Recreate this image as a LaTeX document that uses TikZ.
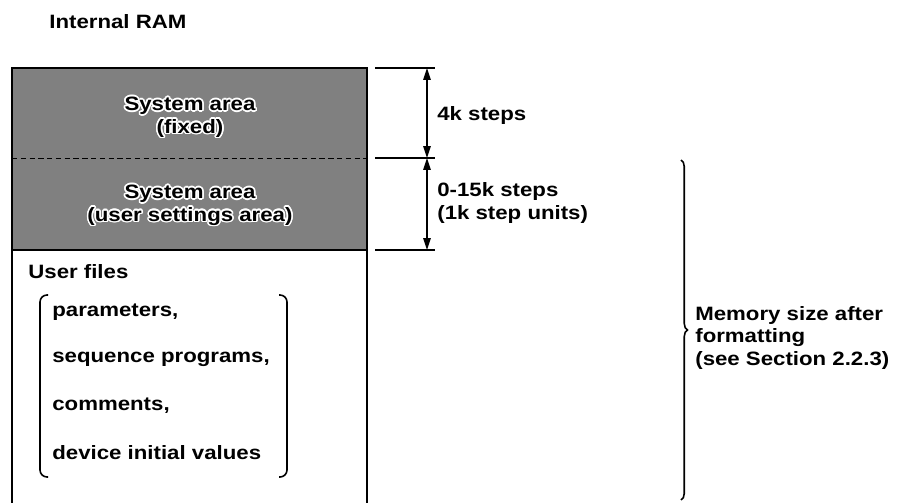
\documentclass[tikz,border=0pt]{standalone}
\usepackage{fontspec}
\setmainfont{Liberation Sans}[FakeStretch=1.15]
\usepackage{contour}
\contourlength{0.9pt}
\usetikzlibrary{positioning,arrows.meta,decorations.pathreplacing}

\begin{document}
\begin{tikzpicture}[x=0.02cm, y=-0.02cm,
  lbl/.style={font=\bfseries\fontsize{11}{13}\selectfont, inner sep=0pt, align=left},
  syslbl/.style={lbl, align=center},
  edge/.style={line width=0.9pt},
  tick/.style={line width=0.6pt},
  dim/.style={{Triangle[length=2.4mm,width=1.5mm]}-{Triangle[length=2.4mm,width=1.5mm]},
    line width=0.8pt},
  sysfill/.style={fill=black!50}
]
\useasboundingbox (0,0) rectangle (913,503);

\node[lbl, anchor=west] (title) at (49,22) {Internal RAM};

% memory block
\coordinate (tl) at (12,68);  \coordinate (tr) at (367,68);
\coordinate (ml) at (12,158); \coordinate (mr) at (367,158);
\coordinate (bl) at (12,250); \coordinate (br) at (367,250);
\coordinate (el) at (12,503); \coordinate (er) at (367,503);
\fill[sysfill] (tl) rectangle (br);
\draw[line width=0.5pt, dash pattern=on 3pt off 2pt] (ml) -- (mr);
\draw[edge] (el) -- (tl) -- (tr) -- (er);
\draw[edge] (bl) -- (br);

\node[syslbl] (fixed) at (190,118)
  {\contour{white}{System area}\\\contour{white}{(fixed)}};
\node[syslbl] (useset) at (190,206)
  {\contour{white}{System area}\\\contour{white}{(user settings area)}};

% user files
\node[lbl, anchor=west] (ufiles) at (28,272) {User files};
\node[lbl, anchor=west] (par) at (52,312) {parameters,};
\node[lbl, anchor=west] (seq) at (52,359) {sequence programs,};
\node[lbl, anchor=west] (com) at (52,406) {comments,};
\node[lbl, anchor=west] (dev) at (52,453) {device initial values};
\draw[edge, rounded corners=4pt] (48,295) -- (40,295) -- (40,477) -- (48,477);
\draw[edge, rounded corners=4pt] (279,295) -- (287,295) -- (287,477) -- (279,477);

% dimensions
\coordinate (a0) at (427,68);
\coordinate (a1) at (427,158);
\coordinate (a2) at (427,250);
\draw[tick] (375,68) -- (435,68);
\draw[tick] (375,158) -- (435,158);
\draw[tick] (375,250) -- (435,250);
\draw[dim] (a0) -- (a1);
\draw[dim] (a1) -- (a2);
\node[lbl, anchor=west] (four) at (437,116) {4k steps};
\node[lbl, anchor=west] (opt) at (437,203) {0-15k steps\\(1k step units)};

% size after formatting
\coordinate (bt) at (681,160);
\coordinate (bb) at (681,500);
\draw[edge, decorate, decoration={brace, amplitude=0.13cm}] (bt) -- (bb);
\node[lbl, anchor=west] (memsize) at (695,338)
  {Memory size after\\formatting\\(see Section 2.2.3)};
\end{tikzpicture}
\end{document}
